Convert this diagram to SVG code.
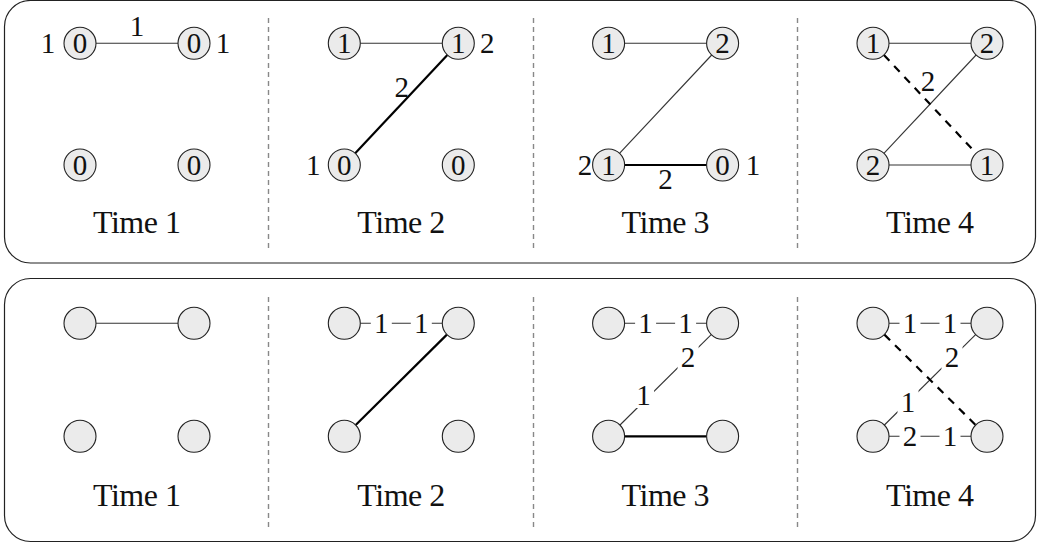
<svg xmlns="http://www.w3.org/2000/svg" width="1039" height="543" viewBox="0 0 1039 543">
<style>
.panel{fill:#fff;stroke:#222;stroke-width:1.2}
.sep{stroke:#888;stroke-width:1.4;stroke-dasharray:5 4;fill:none}
.nd{fill:#ebebeb;stroke:#222;stroke-width:1.1}
.t{font-family:'Liberation Serif','Times New Roman',serif;font-size:29px;text-anchor:middle;fill:#111}
.tm{font-family:'Liberation Serif','Times New Roman',serif;font-size:32px;text-anchor:middle;fill:#111}
.thin{stroke:#333;stroke-width:1.1;fill:none}
.thick{stroke:#000;stroke-width:2.2;fill:none}
.dash{stroke:#000;stroke-width:2.2;stroke-dasharray:8 7;fill:none}
.bg{fill:#fff}
</style>
<rect class="panel" x="4.5" y="0.5" width="1031" height="262.5" rx="26"/>
<rect class="panel" x="4.5" y="278.5" width="1031" height="263" rx="26"/>
<g id="separators">
<line class="sep" x1="268.5" y1="18" x2="268.5" y2="248"/>
<line class="sep" x1="533.5" y1="18" x2="533.5" y2="248"/>
<line class="sep" x1="797.5" y1="18" x2="797.5" y2="248"/>
<line class="sep" x1="268.5" y1="297" x2="268.5" y2="527"/>
<line class="sep" x1="533.5" y1="297" x2="533.5" y2="527"/>
<line class="sep" x1="797.5" y1="297" x2="797.5" y2="527"/>
</g>
<g id="connectors">
<g transform="translate(0,0)">
<line class="thin" x1="96" y1="43.3" x2="178" y2="43.3"/>
</g>
<g transform="translate(264.3,0)">
<line class="thin" x1="96" y1="43.3" x2="178" y2="43.3"/>
<line class="thick" x1="90.9" y1="153.3" x2="183.1" y2="55"/>
</g>
<g transform="translate(528.6,0)">
<line class="thin" x1="96" y1="43.3" x2="178" y2="43.3"/>
<line class="thin" x1="90.9" y1="153.3" x2="183.1" y2="55"/>
<line class="thick" x1="96" y1="165" x2="178" y2="165"/>
</g>
<g transform="translate(793,0)">
<line class="thin" x1="96" y1="43.3" x2="178" y2="43.3"/>
<line class="thin" x1="90.9" y1="153.3" x2="183.1" y2="55"/>
<line class="thin" x1="96" y1="165" x2="178" y2="165"/>
<line class="dash" x1="90.9" y1="55" x2="183.1" y2="153.3"/>
</g>
<g transform="translate(0,0)">
<line class="thin" x1="96" y1="323.3" x2="178" y2="323.3"/>
</g>
<g transform="translate(264.3,0)">
<line class="thin" x1="96" y1="323.3" x2="178" y2="323.3"/>
<line class="thick" x1="91.4" y1="425" x2="182.6" y2="334.6"/>
</g>
<g transform="translate(528.6,0)">
<line class="thin" x1="96" y1="323.3" x2="178" y2="323.3"/>
<line class="thin" x1="91.4" y1="425" x2="182.6" y2="334.6"/>
<line class="thick" x1="96" y1="436.3" x2="178" y2="436.3"/>
</g>
<g transform="translate(793,0)">
<line class="thin" x1="96" y1="323.3" x2="178" y2="323.3"/>
<line class="thin" x1="91.4" y1="425" x2="182.6" y2="334.6"/>
<line class="thin" x1="96" y1="436.3" x2="178" y2="436.3"/>
<line class="dash" x1="91.4" y1="334.6" x2="182.6" y2="425"/>
</g>
</g>
<g id="edge-labels">
<g transform="translate(0,0)">
<text class="t" x="48" y="52.8">1</text>
<text class="t" x="137" y="36">1</text>
<text class="t" x="223" y="52.8">1</text>
</g>
<g transform="translate(264.3,0)">
<text class="t" x="223" y="52.8">2</text>
<text class="t" x="137.5" y="97">2</text>
<text class="t" x="49" y="174.5">1</text>
</g>
<g transform="translate(528.6,0)">
<text class="t" x="56.5" y="174.5">2</text>
<text class="t" x="224.5" y="174.5">1</text>
<text class="t" x="137" y="189">2</text>
</g>
<g transform="translate(793,0)">
<text class="t" x="135" y="91">2</text>
</g>
<g transform="translate(264.3,0)">
<rect class="bg" x="106.5" y="311" width="21" height="25"/><text class="t" x="117" y="333.3">1</text>
<rect class="bg" x="146.5" y="311" width="21" height="25"/><text class="t" x="157" y="333.3">1</text>
</g>
<g transform="translate(528.6,0)">
<rect class="bg" x="106.5" y="311" width="21" height="25"/><text class="t" x="117" y="333.3">1</text>
<rect class="bg" x="146.5" y="311" width="21" height="25"/><text class="t" x="157" y="333.3">1</text>
<rect class="bg" x="104.5" y="383" width="21" height="25"/><text class="t" x="115" y="405">1</text>
<rect class="bg" x="149" y="345" width="21" height="25"/><text class="t" x="159.5" y="367">2</text>
</g>
<g transform="translate(793,0)">
<rect class="bg" x="106.5" y="311" width="21" height="25"/><text class="t" x="117" y="333.3">1</text>
<rect class="bg" x="146.5" y="311" width="21" height="25"/><text class="t" x="157" y="333.3">1</text>
<rect class="bg" x="104.5" y="390" width="21" height="25"/><text class="t" x="115" y="412">1</text>
<rect class="bg" x="148.5" y="345" width="21" height="25"/><text class="t" x="159" y="367">2</text>
<rect class="bg" x="106.5" y="424" width="21" height="25"/><text class="t" x="117" y="446.3">2</text>
<rect class="bg" x="146.5" y="424" width="21" height="25"/><text class="t" x="157" y="446.3">1</text>
</g>
</g>
<g id="top-t1" transform="translate(0,0)">
<g id="t1-a"><circle class="nd" cx="80" cy="43.3" r="16"/><text class="t" x="80" y="53.3">0</text></g>
<g id="t1-b"><circle class="nd" cx="194" cy="43.3" r="16"/><text class="t" x="194" y="53.3">0</text></g>
<g id="t1-c"><circle class="nd" cx="80" cy="165" r="16"/><text class="t" x="80" y="175">0</text></g>
<g id="t1-d"><circle class="nd" cx="194" cy="165" r="16"/><text class="t" x="194" y="175">0</text></g>
<text class="tm" x="137" y="233" textLength="88">Time 1</text>
</g>
<g id="top-t2" transform="translate(264.3,0)">
<g id="t2-a"><circle class="nd" cx="80" cy="43.3" r="16"/><text class="t" x="80" y="53.3">1</text></g>
<g id="t2-b"><circle class="nd" cx="194" cy="43.3" r="16"/><text class="t" x="194" y="53.3">1</text></g>
<g id="t2-c"><circle class="nd" cx="80" cy="165" r="16"/><text class="t" x="80" y="175">0</text></g>
<g id="t2-d"><circle class="nd" cx="194" cy="165" r="16"/><text class="t" x="194" y="175">0</text></g>
<text class="tm" x="137" y="233" textLength="88">Time 2</text>
</g>
<g id="top-t3" transform="translate(528.6,0)">
<g id="t3-a"><circle class="nd" cx="80" cy="43.3" r="16"/><text class="t" x="80" y="53.3">1</text></g>
<g id="t3-b"><circle class="nd" cx="194" cy="43.3" r="16"/><text class="t" x="194" y="53.3">2</text></g>
<g id="t3-c"><circle class="nd" cx="80" cy="165" r="16"/><text class="t" x="80" y="175">1</text></g>
<g id="t3-d"><circle class="nd" cx="194" cy="165" r="16"/><text class="t" x="194" y="175">0</text></g>
<text class="tm" x="137" y="233" textLength="88">Time 3</text>
</g>
<g id="top-t4" transform="translate(793,0)">
<g id="t4-a"><circle class="nd" cx="80" cy="43.3" r="16"/><text class="t" x="80" y="53.3">1</text></g>
<g id="t4-b"><circle class="nd" cx="194" cy="43.3" r="16"/><text class="t" x="194" y="53.3">2</text></g>
<g id="t4-c"><circle class="nd" cx="80" cy="165" r="16"/><text class="t" x="80" y="175">2</text></g>
<g id="t4-d"><circle class="nd" cx="194" cy="165" r="16"/><text class="t" x="194" y="175">1</text></g>
<text class="tm" x="137" y="233" textLength="88">Time 4</text>
</g>
<g id="bot-t1" transform="translate(0,0)">
<g id="b1-a"><circle class="nd" cx="80" cy="323.3" r="16"/></g>
<g id="b1-b"><circle class="nd" cx="194" cy="323.3" r="16"/></g>
<g id="b1-c"><circle class="nd" cx="80" cy="436.3" r="16"/></g>
<g id="b1-d"><circle class="nd" cx="194" cy="436.3" r="16"/></g>
<text class="tm" x="137" y="505.5" textLength="88">Time 1</text>
</g>
<g id="bot-t2" transform="translate(264.3,0)">
<g id="b2-a"><circle class="nd" cx="80" cy="323.3" r="16"/></g>
<g id="b2-b"><circle class="nd" cx="194" cy="323.3" r="16"/></g>
<g id="b2-c"><circle class="nd" cx="80" cy="436.3" r="16"/></g>
<g id="b2-d"><circle class="nd" cx="194" cy="436.3" r="16"/></g>
<text class="tm" x="137" y="505.5" textLength="88">Time 2</text>
</g>
<g id="bot-t3" transform="translate(528.6,0)">
<g id="b3-a"><circle class="nd" cx="80" cy="323.3" r="16"/></g>
<g id="b3-b"><circle class="nd" cx="194" cy="323.3" r="16"/></g>
<g id="b3-c"><circle class="nd" cx="80" cy="436.3" r="16"/></g>
<g id="b3-d"><circle class="nd" cx="194" cy="436.3" r="16"/></g>
<text class="tm" x="137" y="505.5" textLength="88">Time 3</text>
</g>
<g id="bot-t4" transform="translate(793,0)">
<g id="b4-a"><circle class="nd" cx="80" cy="323.3" r="16"/></g>
<g id="b4-b"><circle class="nd" cx="194" cy="323.3" r="16"/></g>
<g id="b4-c"><circle class="nd" cx="80" cy="436.3" r="16"/></g>
<g id="b4-d"><circle class="nd" cx="194" cy="436.3" r="16"/></g>
<text class="tm" x="137" y="505.5" textLength="88">Time 4</text>
</g>
</svg>
